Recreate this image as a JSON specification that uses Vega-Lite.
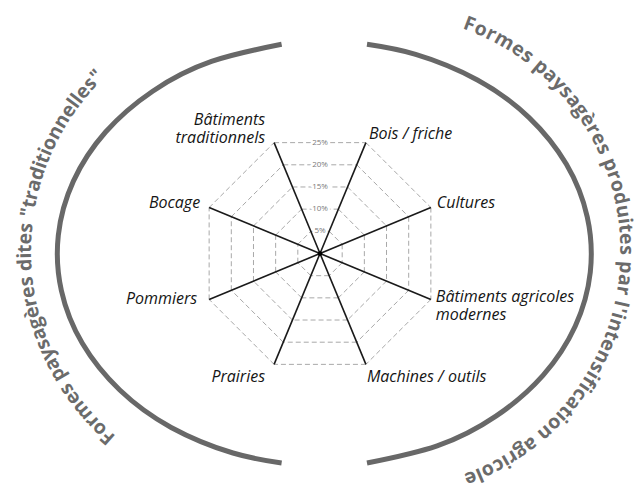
{
  "$schema": "https://vega.github.io/schema/vega-lite/v6.json",
  "width": 635,
  "height": 490,
  "padding": 0,
  "autosize": {"type": "none"},
  "background": "white",
  "config": {"view": {"stroke": null}},
  "datasets": {
    "cats": [
      {"cat": "Bois / friche"},
      {"cat": "Cultures"},
      {"cat": "Bâtiments agricoles\nmodernes"},
      {"cat": "Machines / outils"},
      {"cat": "Prairies"},
      {"cat": "Pommiers"},
      {"cat": "Bocage"},
      {"cat": "Bâtiments\ntraditionnels"}
    ],
    "levels": [{"lv": 5}, {"lv": 10}, {"lv": 15}, {"lv": 20}, {"lv": 25}],
    "arcs": [
      {"side": "L", "t": 99.2}, {"side": "L", "t": 115}, {"side": "L", "t": 130}, {"side": "L", "t": 145},
      {"side": "L", "t": 160}, {"side": "L", "t": 175}, {"side": "L", "t": 190}, {"side": "L", "t": 205},
      {"side": "L", "t": 220}, {"side": "L", "t": 235}, {"side": "L", "t": 250}, {"side": "L", "t": 260.8},
      {"side": "R", "t": -80.8}, {"side": "R", "t": -65}, {"side": "R", "t": -50}, {"side": "R", "t": -35},
      {"side": "R", "t": -20}, {"side": "R", "t": -5}, {"side": "R", "t": 10}, {"side": "R", "t": 25},
      {"side": "R", "t": 40}, {"side": "R", "t": 55}, {"side": "R", "t": 70}, {"side": "R", "t": 80.8}
    ],
    "chars": [
      {"s":"L","c":"F"},{"s":"L","c":"o"},{"s":"L","c":"r"},{"s":"L","c":"m"},{"s":"L","c":"e"},{"s":"L","c":"s"},{"s":"L","c":" "},
      {"s":"L","c":"p"},{"s":"L","c":"a"},{"s":"L","c":"y"},{"s":"L","c":"s"},{"s":"L","c":"a"},{"s":"L","c":"g"},{"s":"L","c":"è"},{"s":"L","c":"r"},{"s":"L","c":"e"},{"s":"L","c":"s"},{"s":"L","c":" "},
      {"s":"L","c":"d"},{"s":"L","c":"i"},{"s":"L","c":"t"},{"s":"L","c":"e"},{"s":"L","c":"s"},{"s":"L","c":" "},
      {"s":"L","c":"\""},{"s":"L","c":"t"},{"s":"L","c":"r"},{"s":"L","c":"a"},{"s":"L","c":"d"},{"s":"L","c":"i"},{"s":"L","c":"t"},{"s":"L","c":"i"},{"s":"L","c":"o"},{"s":"L","c":"n"},{"s":"L","c":"n"},{"s":"L","c":"e"},{"s":"L","c":"l"},{"s":"L","c":"l"},{"s":"L","c":"e"},{"s":"L","c":"s"},{"s":"L","c":"\""},
      {"s":"R","c":"F"},{"s":"R","c":"o"},{"s":"R","c":"r"},{"s":"R","c":"m"},{"s":"R","c":"e"},{"s":"R","c":"s"},{"s":"R","c":" "},
      {"s":"R","c":"p"},{"s":"R","c":"a"},{"s":"R","c":"y"},{"s":"R","c":"s"},{"s":"R","c":"a"},{"s":"R","c":"g"},{"s":"R","c":"è"},{"s":"R","c":"r"},{"s":"R","c":"e"},{"s":"R","c":"s"},{"s":"R","c":" "},
      {"s":"R","c":"p"},{"s":"R","c":"r"},{"s":"R","c":"o"},{"s":"R","c":"d"},{"s":"R","c":"u"},{"s":"R","c":"i"},{"s":"R","c":"t"},{"s":"R","c":"e"},{"s":"R","c":"s"},{"s":"R","c":" "},
      {"s":"R","c":"p"},{"s":"R","c":"a"},{"s":"R","c":"r"},{"s":"R","c":" "},
      {"s":"R","c":"l"},{"s":"R","c":"'"},{"s":"R","c":"i"},{"s":"R","c":"n"},{"s":"R","c":"t"},{"s":"R","c":"e"},{"s":"R","c":"n"},{"s":"R","c":"s"},{"s":"R","c":"i"},{"s":"R","c":"f"},{"s":"R","c":"i"},{"s":"R","c":"c"},{"s":"R","c":"a"},{"s":"R","c":"t"},{"s":"R","c":"i"},{"s":"R","c":"o"},{"s":"R","c":"n"},{"s":"R","c":" "},
      {"s":"R","c":"a"},{"s":"R","c":"g"},{"s":"R","c":"r"},{"s":"R","c":"i"},{"s":"R","c":"c"},{"s":"R","c":"o"},{"s":"R","c":"l"},{"s":"R","c":"e"}
    ]
  },
  "layer": [
    {
      "data": {"name": "cats"},
      "transform": [
        {"window": [{"op": "row_number", "as": "idx"}]},
        {"calculate": "(22.5 + 45 * (datum.idx - 1)) * PI / 180", "as": "a1"},
        {"calculate": "[5, 10, 15, 20, 25]", "as": "lv"},
        {"flatten": ["lv"]},
        {"calculate": "datum.lv * sin(datum.a1)", "as": "x"},
        {"calculate": "datum.lv * cos(datum.a1)", "as": "y"},
        {"calculate": "datum.lv * sin(datum.a1 + PI / 4)", "as": "x2"},
        {"calculate": "datum.lv * cos(datum.a1 + PI / 4)", "as": "y2"}
      ],
      "mark": {"type": "rule", "color": "#a8a8a8", "strokeWidth": 1, "strokeDash": [5, 3]},
      "encoding": {
        "x": {"field": "x", "type": "quantitative", "scale": {"domain": [-66.667, 65.625], "nice": false, "zero": false}, "axis": null},
        "y": {"field": "y", "type": "quantitative", "scale": {"domain": [-49.271, 52.8125], "nice": false, "zero": false}, "axis": null},
        "x2": {"field": "x2"},
        "y2": {"field": "y2"}
      }
    },
    {
      "data": {"name": "levels"},
      "transform": [
        {"calculate": "datum.lv + '%'", "as": "label"},
        {"calculate": "0", "as": "x"},
        {"calculate": "datum.lv * cos(PI / 8)", "as": "y"}
      ],
      "layer": [
        {
          "mark": {"type": "text", "font": "Open Sans", "fontSize": 8, "stroke": "white", "strokeWidth": 5, "fill": "white", "align": "center", "baseline": "middle"},
          "encoding": {
            "x": {"field": "x", "type": "quantitative", "scale": {"domain": [-66.667, 65.625], "nice": false, "zero": false}, "axis": null},
            "y": {"field": "y", "type": "quantitative", "scale": {"domain": [-49.271, 52.8125], "nice": false, "zero": false}, "axis": null},
            "text": {"field": "label"}
          }
        },
        {
          "mark": {"type": "text", "font": "Open Sans", "fontSize": 8, "color": "#7a7a7a", "align": "center", "baseline": "middle"},
          "encoding": {
            "x": {"field": "x", "type": "quantitative", "scale": {"domain": [-66.667, 65.625], "nice": false, "zero": false}, "axis": null},
            "y": {"field": "y", "type": "quantitative", "scale": {"domain": [-49.271, 52.8125], "nice": false, "zero": false}, "axis": null},
            "text": {"field": "label"}
          }
        }
      ]
    },
    {
      "data": {"name": "cats"},
      "transform": [
        {"window": [{"op": "row_number", "as": "idx"}]},
        {"calculate": "(22.5 + 45 * (datum.idx - 1)) * PI / 180", "as": "a"},
        {"calculate": "0", "as": "o"},
        {"calculate": "25 * sin(datum.a)", "as": "x"},
        {"calculate": "25 * cos(datum.a)", "as": "y"}
      ],
      "mark": {"type": "rule", "color": "#1a1a1a", "strokeWidth": 1.6},
      "encoding": {
        "x": {"field": "o", "type": "quantitative", "scale": {"domain": [-66.667, 65.625], "nice": false, "zero": false}, "axis": null},
        "y": {"field": "o", "type": "quantitative", "scale": {"domain": [-49.271, 52.8125], "nice": false, "zero": false}, "axis": null},
        "x2": {"field": "x"},
        "y2": {"field": "y"}
      }
    },
    {
      "data": {"values": [{}]},
      "mark": {"type": "circle", "color": "#000000", "size": 22, "opacity": 1},
      "encoding": {
        "x": {"datum": 0, "type": "quantitative", "scale": {"domain": [-66.667, 65.625], "nice": false, "zero": false}, "axis": null},
        "y": {"datum": 0, "type": "quantitative", "scale": {"domain": [-49.271, 52.8125], "nice": false, "zero": false}, "axis": null}
      }
    },
    {
      "data": {"name": "cats"},
      "transform": [
        {"window": [{"op": "row_number", "as": "idx"}]},
        {"calculate": "(22.5 + 45 * (datum.idx - 1)) * PI / 180", "as": "a"},
        {"calculate": "25 * sin(datum.a) + [3, 6, 5, 1, -9, -12, -9, -9][datum.idx - 1] / 4.8", "as": "x"},
        {"calculate": "25 * cos(datum.a) - [-9, -5, -2, 13, 13, 0, -5, -23][datum.idx - 1] / 4.8", "as": "y"}
      ],
      "layer": [
        {
          "transform": [{"filter": "datum.idx <= 4"}],
          "mark": {"type": "text", "font": "Open Sans", "fontStyle": "italic", "fontSize": 16, "color": "#151515", "align": "left", "baseline": "middle", "lineBreak": "\n", "lineHeight": 18},
          "encoding": {
            "x": {"field": "x", "type": "quantitative", "scale": {"domain": [-66.667, 65.625], "nice": false, "zero": false}, "axis": null},
            "y": {"field": "y", "type": "quantitative", "scale": {"domain": [-49.271, 52.8125], "nice": false, "zero": false}, "axis": null},
            "text": {"field": "cat"}
          }
        },
        {
          "transform": [{"filter": "datum.idx > 4"}],
          "mark": {"type": "text", "font": "Open Sans", "fontStyle": "italic", "fontSize": 16, "color": "#151515", "align": "right", "baseline": "middle", "lineBreak": "\n", "lineHeight": 18},
          "encoding": {
            "x": {"field": "x", "type": "quantitative", "scale": {"domain": [-66.667, 65.625], "nice": false, "zero": false}, "axis": null},
            "y": {"field": "y", "type": "quantitative", "scale": {"domain": [-49.271, 52.8125], "nice": false, "zero": false}, "axis": null},
            "text": {"field": "cat"}
          }
        }
      ]
    },
    {
      "data": {"name": "arcs"},
      "transform": [
        {"calculate": "0.896 + 55.625 * cos(datum.t * PI / 180)", "as": "x"},
        {"calculate": "-0.04 + 44.19 * sin(datum.t * PI / 180)", "as": "y"}
      ],
      "mark": {"type": "line", "color": "#686868", "strokeWidth": 5, "strokeCap": "butt", "interpolate": "natural"},
      "encoding": {
        "x": {"field": "x", "type": "quantitative", "scale": {"domain": [-66.667, 65.625], "nice": false, "zero": false}, "axis": null},
        "y": {"field": "y", "type": "quantitative", "scale": {"domain": [-49.271, 52.8125], "nice": false, "zero": false}, "axis": null},
        "detail": {"field": "side"},
        "order": {"field": "t", "type": "quantitative"}
      }
    },
    {
      "data": {"name": "chars"},
      "transform": [
        {"calculate": "indexof('il', datum.c) >= 0 || datum.c == \"'\" ? 0.29 : indexof('tf', datum.c) >= 0 ? 0.40 : datum.c == 'r' ? 0.44 : indexof('sc', datum.c) >= 0 || datum.c == '\"' ? 0.50 : indexof('yg', datum.c) >= 0 ? 0.54 : indexof('aeèF', datum.c) >= 0 ? 0.58 : indexof('opd', datum.c) >= 0 ? 0.61 : indexof('nu', datum.c) >= 0 ? 0.64 : datum.c == 'm' ? 0.96 : datum.c == ' ' ? 0.26 : 0.6", "as": "w"},
        {"window": [{"op": "sum", "field": "w", "as": "cw"}], "groupby": ["s"], "frame": [null, 0]},
        {"calculate": "datum.cw - datum.w / 2", "as": "mid"},
        {"calculate": "datum.s == 'L' ? 131.8 + (datum.mid - 0.29) * 4.673 : -69.4 + (datum.mid - 0.29) * 5.013", "as": "phi"},
        {"calculate": "datum.s == 'L' ? -9.583 + 51.875 * cos(datum.phi * PI / 180) : 13.333 + 50.5 * cos(datum.phi * PI / 180)", "as": "x"},
        {"calculate": "datum.s == 'L' ? 0.417 - 51.875 * sin(datum.phi * PI / 180) : 0.417 - 50.5 * sin(datum.phi * PI / 180)", "as": "y"},
        {"calculate": "datum.phi + 90", "as": "ang"}
      ],
      "mark": {"type": "text", "font": "Open Sans", "fontWeight": "bold", "fontSize": 19.5, "color": "#6b6b6b", "align": "center", "baseline": "middle"},
      "encoding": {
        "x": {"field": "x", "type": "quantitative", "scale": {"domain": [-66.667, 65.625], "nice": false, "zero": false}, "axis": null},
        "y": {"field": "y", "type": "quantitative", "scale": {"domain": [-49.271, 52.8125], "nice": false, "zero": false}, "axis": null},
        "text": {"field": "c"},
        "angle": {"field": "ang", "type": "quantitative", "scale": null}
      }
    }
  ]
}
